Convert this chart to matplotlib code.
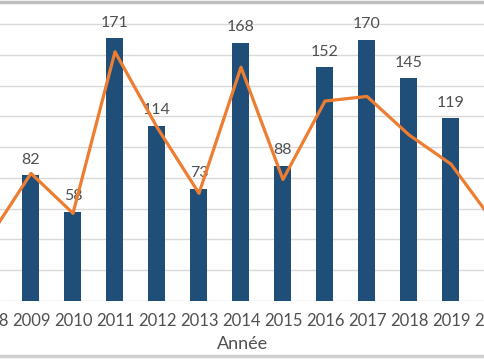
import matplotlib
matplotlib.use("Agg")
import matplotlib.pyplot as plt
from matplotlib.lines import Line2D
import numpy as np

# données
annees = ['2008', '2009', '2010', '2011', '2012', '2013', '2014',
          '2015', '2016', '2017', '2018', '2019', '2020']
barres = [45, 82, 58, 171, 114, 73, 168, 88, 152, 170, 145, 119, 72]
courbe = [41, 83, 57, 162, 113, 70, 152, 79, 130, 133, 108, 89, 52]

def main():
    plt.rcParams['font.family'] = ['Lato', 'DejaVu Sans']
    gris = '#505050'

    fig = plt.figure(figsize=(4.85, 3.6), dpi=100)
    # axes plus larges que la figure : le graphique d'origine est rogné
    ax = fig.add_axes([-42 / 485, 0.1639, 569 / 485, 0.8361])

    x = np.arange(len(annees))
    couleurs = ['#1f4e79'] * (len(annees) - 1) + ['#5b9bd5']
    ax.bar(x, barres, width=0.405, color=couleurs, zorder=2)

    # étiquettes de valeurs
    for xi, v in zip(x, barres):
        ax.annotate(str(v), (xi, v), xytext=(0, 6), textcoords='offset points',
                    ha='center', va='bottom', fontsize=11.5, color=gris, zorder=3)

    ax.plot(x, courbe, color='#ed7d31', linewidth=2.3, zorder=4)

    ax.set_xticks(x)
    ax.set_xticklabels(annees)
    ax.set_xlim(-0.738, 12.81)
    ax.set_ylim(0, 195.7)
    ax.set_yticks(np.arange(0, 181, 20))
    ax.yaxis.grid(True, color='#d9d9d9', linewidth=1)
    ax.set_axisbelow(True)
    ax.tick_params(axis='y', left=False, labelleft=False)
    ax.tick_params(axis='x', length=0, pad=9, labelsize=12, labelcolor=gris)
    for s in ax.spines.values():
        s.set_visible(False)

    ax.set_xlabel('Année', fontsize=13, color=gris, labelpad=5)

    # bords du cadre
    fig.add_artist(Line2D([0, 1], [0.995, 0.995], color='#bfbfbf', linewidth=2.5))
    fig.add_artist(Line2D([0, 1], [0.01, 0.01], color='#d0d0d0', linewidth=2.5))

    fig.savefig('out.png', dpi=100)
    plt.close(fig)

if __name__ == "__main__":
    main()
